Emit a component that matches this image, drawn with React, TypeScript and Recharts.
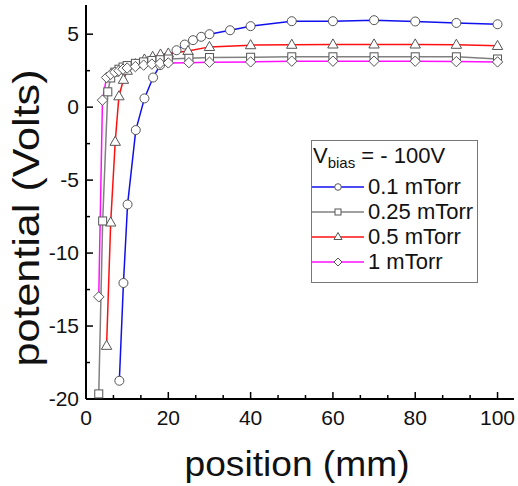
import React from "react";
import { LineChart, Line, XAxis, YAxis, Legend, Label } from "recharts";

// position (mm) / potential (V)
const pos01 = [8.1, 9.1, 10.1, 12.1, 14.2, 16.3, 18, 20, 22, 24, 26, 28, 30, 35, 40, 50, 60, 70, 80, 90, 100];
const pot01 = [-18.75, -12.05, -6.67, -1.57, 0.6, 2.03, 2.88, 3.49, 3.9, 4.29, 4.59, 4.82, 5.0, 5.27, 5.55, 5.89, 5.89, 5.96, 5.87, 5.77, 5.68];

const pos025 = [3.1, 4.05, 5.3, 6, 7, 8, 9, 10, 12, 14, 16, 18, 20, 25, 30, 40, 50, 60, 70, 80, 90, 100];
const pot025 = [-19.65, -7.8, 1.05, 2.0, 2.4, 2.6, 2.75, 2.85, 3.0, 3.1, 3.2, 3.25, 3.3, 3.35, 3.4, 3.42, 3.45, 3.45, 3.45, 3.45, 3.45, 3.3];

const pos05 = [5, 6, 7.1, 8, 9.1, 10, 12, 14.2, 16.2, 18.1, 20, 24.8, 30, 40, 50, 60, 70, 80, 90, 100];
const pot05 = [-16.35, -7.9, -2.37, 0.75, 1.88, 2.5, 2.95, 3.27, 3.45, 3.61, 3.68, 3.85, 4.13, 4.25, 4.28, 4.3, 4.3, 4.3, 4.28, 4.2];

const pos1 = [3.1, 4, 5, 6, 7, 8, 9, 10, 12, 14, 16, 18, 20, 25, 30, 40, 50, 60, 70, 80, 90, 100];
const pot1 = [-13.0, 0.48, 2.03, 2.25, 2.4, 2.5, 2.6, 2.68, 2.78, 2.88, 2.95, 3.0, 3.03, 3.05, 3.08, 3.1, 3.15, 3.15, 3.15, 3.15, 3.12, 3.1];

const xTicks = [0, 20 / 3, 40 / 3, 20, 80 / 3, 100 / 3, 40, 140 / 3, 160 / 3, 60, 200 / 3, 220 / 3, 80, 260 / 3, 280 / 3, 100];
const yTicks = [-20, -17.5, -15, -12.5, -10, -7.5, -5, -2.5, 0, 2.5, 5];

const toPts = (xs: number[], ys: number[]) => xs.map((x, i) => ({ x, y: ys[i] }));

const FONT = "'Liberation Sans', Arial, sans-serif";
const MK = "#555";

const isMajor = (v: number, step: number) => Math.abs(v / step - Math.round(v / step)) < 1e-6;

const circleDot = (p: any) => <circle key={p.index} cx={p.cx} cy={p.cy} r={4.5} fill="#fff" stroke={MK} strokeWidth={1} />;
const squareDot = (p: any) => <rect key={p.index} x={p.cx - 4} y={p.cy - 4} width={8} height={8} fill="#fff" stroke={MK} strokeWidth={1} />;
const triDot = (p: any) => (
  <polygon key={p.index} points={`${p.cx},${p.cy - 5.5} ${p.cx - 5.2},${p.cy + 3.6} ${p.cx + 5.2},${p.cy + 3.6}`} fill="#fff" stroke={MK} strokeWidth={1} />
);
const diaDot = (p: any) => (
  <polygon key={p.index} points={`${p.cx},${p.cy - 5.2} ${p.cx + 5.2},${p.cy} ${p.cx},${p.cy + 5.2} ${p.cx - 5.2},${p.cy}`} fill="#fff" stroke={MK} strokeWidth={1} />
);

const BottomTick = (p: any) => {
  const major = isMajor(p.payload.value, 20);
  return (
    <g>
      <line x1={p.x} x2={p.x} y1={p.y} y2={p.y - (major ? 7 : 4)} stroke="#000" strokeWidth={1.5} />
      {major && (
        <text x={p.x} y={p.y + 26} textAnchor="middle" fontSize={21} fontFamily={FONT} fill="#111">
          {Math.round(p.payload.value)}
        </text>
      )}
    </g>
  );
};
const TopTick = (p: any) => {
  const major = isMajor(p.payload.value, 20);
  return <line x1={p.x} x2={p.x} y1={p.y} y2={p.y + (major ? 7 : 4)} stroke="#000" strokeWidth={1.5} />;
};
const LeftTick = (p: any) => {
  const major = isMajor(p.payload.value, 5);
  return (
    <g>
      <line x1={p.x} x2={p.x + (major ? 7 : 4)} y1={p.y} y2={p.y} stroke="#000" strokeWidth={1.5} />
      {major && (
        <text x={p.x - 7} y={p.y + 7} textAnchor="end" fontSize={21} fontFamily={FONT} fill="#111">
          {p.payload.value}
        </text>
      )}
    </g>
  );
};
const RightTick = (p: any) => {
  const major = isMajor(p.payload.value, 5);
  return <line x1={p.x} x2={p.x - (major ? 7 : 4)} y1={p.y} y2={p.y} stroke="#000" strokeWidth={1.5} />;
};

const rows = [
  { name: "0.1 mTorr", color: "#1010ee", shape: "circle" },
  { name: "0.25 mTorr", color: "#808080", shape: "square" },
  { name: "0.5 mTorr", color: "#ff1010", shape: "tri" },
  { name: "1 mTorr", color: "#ff10ff", shape: "dia" },
];

const sample = (shape: string) => {
  if (shape === "circle") return <circle cx={26} cy={8} r={3.3} fill="#fff" stroke={MK} />;
  if (shape === "square") return <rect x={23} y={5} width={6} height={6} fill="#fff" stroke={MK} />;
  if (shape === "tri") return <polygon points="26,3.5 22,10.5 30,10.5" fill="#fff" stroke={MK} />;
  return <polygon points="26,4 30,8 26,12 22,8" fill="#fff" stroke={MK} />;
};

const LegendBox = () => (
  <div
    style={{
      width: 167,
      height: 143,
      boxSizing: "border-box",
      border: "1.5px solid #777",
      fontFamily: FONT,
      fontSize: 22,
      color: "#111",
      background: "#fff",
    }}
  >
    <div style={{ height: 33, lineHeight: "30px", paddingLeft: 1, whiteSpace: "nowrap" }}>
      V<sub style={{ fontSize: 15 }}>bias</sub> = - 100V
    </div>
    {rows.map((r) => (
      <div key={r.name} style={{ height: 25, display: "flex", alignItems: "center", whiteSpace: "nowrap" }}>
        <svg width={52} height={16} style={{ flex: "none" }}>
          <line x1={0} x2={52} y1={8} y2={8} stroke={r.color} strokeWidth={1.5} />
          {sample(r.shape)}
        </svg>
        <span style={{ marginLeft: 4 }}>{r.name}</span>
      </div>
    ))}
  </div>
);

export default function App() {
  return (
    <div style={{ position: "absolute", left: 0, top: 0, background: "#fff" }}>
      <LineChart width={518} height={486} margin={{ top: 5, right: 4, left: 0, bottom: 0 }}>
        <XAxis
          xAxisId="b"
          dataKey="x"
          type="number"
          domain={[0, 104]}
          ticks={xTicks}
          interval={0}
          height={87}
          tickSize={0}
          tickMargin={0}
          tickLine={false}
          tick={BottomTick}
          axisLine={{ stroke: "#000", strokeWidth: 2 }}
          allowDataOverflow
        >
          <Label
            content={(props: any) => {
              const vb = props.viewBox;
              return (
                <text
                  x={vb.x + vb.width / 2 - 3}
                  y={476}
                  textAnchor="middle"
                  fontSize={35}
                  fontFamily={FONT}
                  fill="#111"
                  textLength={225}
                  lengthAdjust="spacingAndGlyphs"
                >
                  position (mm)
                </text>
              );
            }}
          />
        </XAxis>
        <XAxis
          xAxisId="t"
          orientation="top"
          dataKey="x"
          type="number"
          domain={[0, 104]}
          ticks={xTicks}
          interval={0}
          height={0}
          tickSize={0}
          tickMargin={0}
          tickLine={false}
          tick={TopTick}
          axisLine={{ stroke: "#000", strokeWidth: 2 }}
          allowDataOverflow
        />
        <YAxis
          yAxisId="l"
          type="number"
          domain={[-20, 7]}
          ticks={yTicks}
          interval={0}
          width={86}
          tickSize={0}
          tickMargin={0}
          tickLine={false}
          tick={LeftTick}
          axisLine={{ stroke: "#000", strokeWidth: 2 }}
          allowDataOverflow
        >
          <Label
            content={() => (
              <text
                x={39}
                y={218}
                transform="rotate(-90, 39, 218)"
                textAnchor="middle"
                fontSize={37}
                fontFamily={FONT}
                fill="#111"
                textLength={297}
                lengthAdjust="spacingAndGlyphs"
              >
                potential (Volts)
              </text>
            )}
          />
        </YAxis>
        <YAxis
          yAxisId="r"
          orientation="right"
          type="number"
          domain={[-20, 7]}
          ticks={yTicks}
          interval={0}
          width={0}
          tickSize={0}
          tickMargin={0}
          tickLine={false}
          tick={RightTick}
          axisLine={{ stroke: "#000", strokeWidth: 2 }}
          allowDataOverflow
        />
        <Legend
          layout="vertical"
          align="center"
          verticalAlign="middle"
          content={() => <LegendBox />}
          wrapperStyle={{ position: "absolute", left: 311, top: 140, width: 167, height: 143 }}
        />
        <Line xAxisId="b" yAxisId="l" data={toPts(pos01, pot01)} dataKey="y" name="0.1 mTorr" stroke="#1010ee" strokeWidth={1.5} dot={circleDot} isAnimationActive={false} />
        <Line xAxisId="b" yAxisId="l" data={toPts(pos05, pot05)} dataKey="y" name="0.5 mTorr" stroke="#ff1010" strokeWidth={1.5} dot={triDot} isAnimationActive={false} />
        <Line xAxisId="b" yAxisId="l" data={toPts(pos025, pot025)} dataKey="y" name="0.25 mTorr" stroke="#808080" strokeWidth={1.5} dot={squareDot} isAnimationActive={false} />
        <Line xAxisId="b" yAxisId="l" data={toPts(pos1, pot1)} dataKey="y" name="1 mTorr" stroke="#ff10ff" strokeWidth={1.5} dot={diaDot} isAnimationActive={false} />
      </LineChart>
    </div>
  );
}
